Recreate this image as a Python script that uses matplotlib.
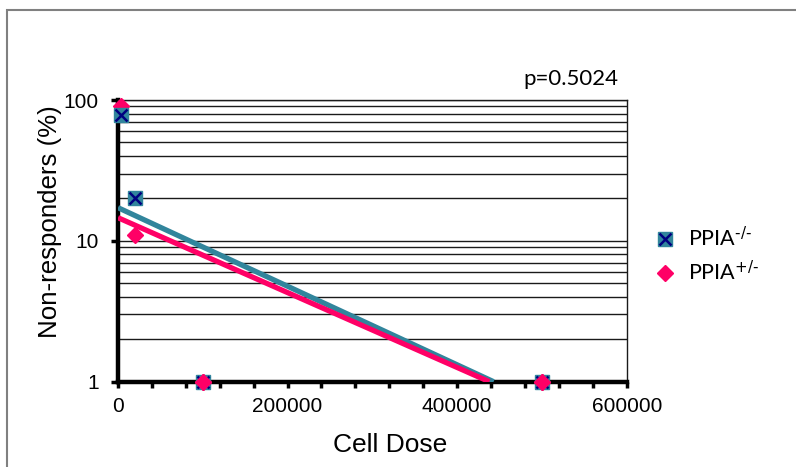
import matplotlib
matplotlib.use('Agg')
import matplotlib.pyplot as plt
from matplotlib.patches import Rectangle
from matplotlib.lines import Line2D
from matplotlib.ticker import FixedLocator, NullFormatter
from matplotlib.legend_handler import HandlerTuple

# ---- data ----
ko_dose = [3000, 20000, 100000, 500000]
ko_pct = [78, 20, 1, 1]
het_dose = [3000, 20000, 100000, 500000]
het_pct = [90, 11, 1, 1]
ko_fit_dose = [0, 443000]
ko_fit_pct = [17.2, 1.0]
het_fit_dose = [0, 438000]
het_fit_pct = [14.6, 1.0]
x_major = [0, 200000, 400000, 600000]
x_major_labels = ['0', '200000', '400000', '600000']
x_minor = [40000, 80000, 120000, 160000, 240000, 280000, 320000, 360000,
           440000, 480000, 520000, 560000]
y_major = [1, 10, 100]
y_major_labels = ['1', '10', '100']
series_labels = [r'$\mathregular{PPIA^{\text{-/-}}}$', r'$\mathregular{PPIA^{\text{+/-}}}$']
p_text = 'p=0.5024'

TEAL = '#31859C'
NAVY = '#000080'
PINK = '#FF0066'

plt.rcParams['font.family'] = ['Liberation Sans', 'DejaVu Sans']

W, H = 796, 467
fig = plt.figure(figsize=(W / 100, H / 100), dpi=100)
fig.patch.set_facecolor('white')

# outer border (extends beyond right/bottom edges)
fig.patches.append(Rectangle((7 / W, -0.1), 1.2, 1.1 - 10 / H, transform=fig.transFigure,
                             fill=False, edgecolor='#808080', linewidth=1.5, zorder=0))

left, right, top, bottom = 118, 626.7, 100, 381.7
ax = fig.add_axes([left / W, 1 - bottom / H, (right - left) / W, (bottom - top) / H])
ax.set_yscale('log')
ax.set_xlim(0, 600000)
ax.set_ylim(1, 100)

# grid
ax.set_yticks(y_major)
ax.set_yticklabels(y_major_labels)
ax.yaxis.set_minor_locator(FixedLocator([2, 3, 4, 5, 6, 7, 8, 9, 20, 30, 40, 50, 60, 70, 80, 90]))
ax.yaxis.set_minor_formatter(NullFormatter())
ax.grid(True, which='both', axis='y', color='#1a1a1a', linewidth=1.0, zorder=0)
ax.set_axisbelow(True)

ax.set_xticks(x_major)
ax.set_xticklabels(x_major_labels)
ax.xaxis.set_minor_locator(FixedLocator(x_minor))
ax.xaxis.set_minor_formatter(NullFormatter())

ax.tick_params(axis='x', which='both', direction='out', length=4, width=2.5, color='black',
               labelsize=15, pad=7)
ax.tick_params(axis='y', which='major', direction='out', length=5, width=2.5, color='black',
               labelsize=15, pad=9)
ax.tick_params(axis='y', which='minor', length=0)

for s in ['left', 'bottom']:
    ax.spines[s].set_linewidth(3.2)
    ax.spines[s].set_color('black')
for s in ['right', 'top']:
    ax.spines[s].set_linewidth(1.0)
    ax.spines[s].set_color('#1a1a1a')

# trend lines
ax.plot(ko_fit_dose, ko_fit_pct, color=TEAL, linewidth=3.8, solid_capstyle='butt', zorder=3)
ax.plot(het_fit_dose, het_fit_pct, color=PINK, linewidth=3.8, solid_capstyle='butt', zorder=3.1)

# points: diamonds sit under squares, except on the baseline where they sit on top
ax.plot(het_dose, het_pct, linestyle='none', marker='D', markersize=8, markerfacecolor=PINK,
        markeredgecolor=PINK, clip_on=False, zorder=4.9)
ax.plot(ko_dose, ko_pct, linestyle='none', marker='s', markersize=10.5, markerfacecolor=TEAL,
        markeredgecolor=TEAL, clip_on=False, zorder=5)
ax.plot(ko_dose, ko_pct, linestyle='none', marker='x', markersize=9, markeredgecolor=NAVY,
        markeredgewidth=1.8, clip_on=False, zorder=5.1)
base_dose = [d for d, v in zip(het_dose, het_pct) if v <= 1]
base_pct = [v for v in het_pct if v <= 1]
ax.plot(base_dose, base_pct, linestyle='none', marker='D', markersize=8, markerfacecolor=PINK,
        markeredgecolor=PINK, clip_on=False, zorder=5.2)

ax.set_xlabel('Cell Dose', fontsize=19)
ax.xaxis.set_label_coords((390 - left) / (right - left), (bottom - 445) / (bottom - top))
ax.xaxis.label.set_verticalalignment('center')
ax.set_ylabel('Non-responders (%)', fontsize=18.6)
ax.yaxis.set_label_coords((50 - left) / (right - left), (bottom - 222) / (bottom - top))
ax.yaxis.label.set_verticalalignment('center')

fig.text(571 / W, 1 - 79 / H, p_text, fontsize=16, family='Lato', ha='center', va='center')

# legend
h_ko = (Line2D([], [], linestyle='none', marker='s', markersize=10.5, markerfacecolor=TEAL, markeredgecolor=TEAL),
        Line2D([], [], linestyle='none', marker='x', markersize=9, markeredgecolor=NAVY, markeredgewidth=1.8))
h_het = Line2D([], [], linestyle='none', marker='D', markersize=8, markerfacecolor=PINK, markeredgecolor=PINK)
leg = fig.legend([h_ko, h_het], series_labels, handler_map={tuple: HandlerTuple(ndivide=1)},
                 loc='center left', bbox_to_anchor=(646 / W, 1 - 255 / H), frameon=False,
                 prop={'family': 'Lato', 'size': 15.5}, handlelength=1.0, handletextpad=0.55,
                 labelspacing=0.45, borderaxespad=0)

fig.savefig('out.png', dpi=100)
